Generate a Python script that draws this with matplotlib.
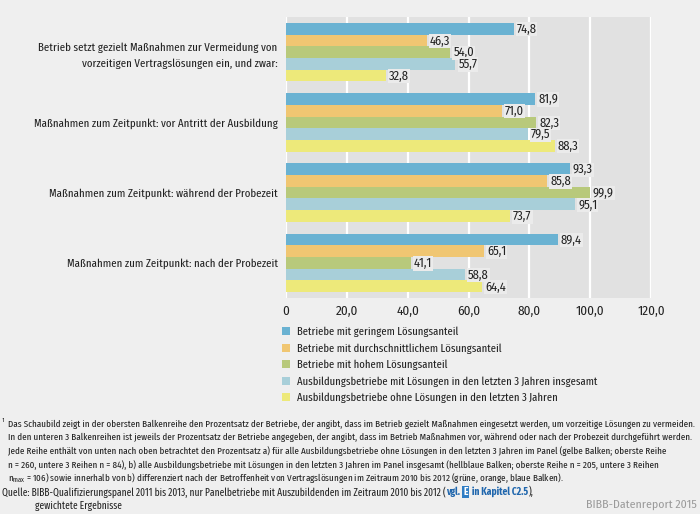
import matplotlib
matplotlib.use("Agg")
import matplotlib.pyplot as plt
import numpy as np

plt.rcParams['font.family'] = ['Fira Sans Condensed', 'DejaVu Sans']
plt.rcParams['mathtext.fontset'] = 'custom'
plt.rcParams['mathtext.rm'] = 'Fira Sans Extra Condensed'
XC = ['Fira Sans Extra Condensed', 'DejaVu Sans']

categories = [
    "Betrieb setzt gezielt Maßnahmen zur Vermeidung von\nvorzeitigen Vertragslösungen ein, und zwar:",
    "Maßnahmen zum Zeitpunkt: vor Antritt der Ausbildung",
    "Maßnahmen zum Zeitpunkt: während der Probezeit",
    "Maßnahmen zum Zeitpunkt: nach der Probezeit",
]
series_names = [
    "Betriebe mit geringem Lösungsanteil",
    "Betriebe mit durchschnittlichem Lösungsanteil",
    "Betriebe mit hohem Lösungsanteil",
    "Ausbildungsbetriebe mit Lösungen in den letzten 3 Jahren insgesamt",
    "Ausbildungsbetriebe ohne Lösungen in den letzten 3 Jahren",
]
geringem = [74.8, 81.9, 93.3, 89.4]
durchschnitt = [46.3, 71.0, 85.8, 65.1]
hohem = [54.0, 82.3, 99.9, 41.1]
mit_loesungen = [55.7, 79.5, 95.1, 58.8]
ohne_loesungen = [32.8, 88.3, 73.7, 64.4]
series = [geringem, durchschnitt, hohem, mit_loesungen, ohne_loesungen]
colors = ['#6ab2d2', '#f0c672', '#b8c97b', '#a8cfd9', '#ede97a']
xticks = [0, 20, 40, 60, 80, 100, 120]

fig = plt.figure(figsize=(7, 5.14), dpi=100, facecolor='#efefef')
ax = fig.add_axes([286 / 700, 1 - 298 / 514, 365 / 700, 281 / 514])
ax.set_facecolor('#e1e1e1')

group_y = np.arange(len(categories)) * 6
handles = []
for i, (vals, col, name) in enumerate(zip(series, colors, series_names)):
    y = group_y + i + 1
    h = ax.barh(y, vals, height=1.0, color=col, label=name, zorder=2)
    handles.append(h)
    for yy, v in zip(y, vals):
        ax.text(v + 1.0, yy + 0.05, f"{v:.1f}".replace('.', ','), va='center', ha='left',
                fontsize=9, color='#222222', zorder=3,
                bbox=dict(facecolor='#ebebeb', edgecolor='none', pad=0.6))

ax.set_xlim(0, 120)
ax.set_ylim(24, 0)
ax.set_xticks(xticks)
ax.set_xticklabels(["0"] + [f"{t:.1f}".replace('.', ',') for t in xticks[1:]], fontsize=9.5)
ax.set_yticks(group_y + 3)
ax.set_yticklabels(categories, fontsize=8.5, multialignment='right', linespacing=1.6, family=XC)
ax.tick_params(length=0, pad=6, colors='#222222')
ax.tick_params(axis='x', pad=5)
ax.grid(axis='x', color='white', linewidth=1.6, zorder=1)
ax.set_axisbelow(True)
for s in ax.spines.values():
    s.set_visible(False)

fig.legend(handles=handles, loc='upper left', bbox_to_anchor=(282 / 700, 1 - 327 / 514),
           frameon=False, prop={'family': XC, 'size': 8.3}, handlelength=0.7, handleheight=0.7,
           handletextpad=0.6, labelspacing=0.5, borderpad=0, borderaxespad=0,
           labelcolor='#222222')

foot = [
    "Das Schaubild zeigt in der obersten Balkenreihe den Prozentsatz der Betriebe, der angibt, dass im Betrieb gezielt Maßnahmen eingesetzt werden, um vorzeitige Lösungen zu vermeiden.",
    "In den unteren 3 Balkenreihen ist jeweils der Prozentsatz der Betriebe angegeben, der angibt, dass im Betrieb Maßnahmen vor, während oder nach der Probezeit durchgeführt werden.",
    "Jede Reihe enthält von unten nach oben betrachtet den Prozentsatz a) für alle Ausbildungsbetriebe ohne Lösungen in den letzten 3 Jahren im Panel (gelbe Balken; oberste Reihe",
    "n = 260, untere 3 Reihen n = 84), b) alle Ausbildungsbetriebe mit Lösungen in den letzten 3 Jahren im Panel insgesamt (hellblaue Balken; oberste Reihe n = 205, untere 3 Reihen",
    r"n$_{\mathrm{max}}$ = 106) sowie innerhalb von b) differenziert nach der Betroffenheit von Vertragslösungen im Zeitraum 2010 bis 2012 (grüne, orange, blaue Balken).",
]
fy = [424, 437, 451, 465, 478]
fig.text(2 / 700, 1 - 422 / 514, "¹", fontsize=6, va='center', color='#222222', family=XC)
for t, y in zip(foot, fy):
    fig.text(8 / 700, 1 - y / 514, t, fontsize=7.1, va='center', color='#222222', family=XC)

# Quelle line built from pieces
fig.canvas.draw()
renderer = fig.canvas.get_renderer()
qy = 1 - 492 / 514
pieces = [
    ("Quelle: BIBB-Qualifizierungspanel 2011 bis 2013, nur Panelbetriebe mit Auszubildenden im Zeitraum 2010 bis 2012 (", '#222222', 'normal', None),
    ("vgl. ", '#1f66ad', 'bold', None),
    ("E", 'white', 'bold', '#2f7dc4'),
    (" in Kapitel C2.5", '#1f66ad', 'bold', None),
    ("),", '#222222', 'normal', None),
]
x = 2
for txt, col, wt, bg in pieces:
    kw = {}
    if bg:
        kw['bbox'] = dict(facecolor=bg, edgecolor='none', pad=0.8)
        x += 2
    t = fig.text(x / 700, qy, txt, fontsize=7.4, color=col, weight=wt, va='center', family=XC, **kw)
    bb = t.get_window_extent(renderer)
    x = bb.x1 + (2 if bg else 0)
fig.text(35 / 700, 1 - 506 / 514, "gewichtete Ergebnisse", fontsize=7.4, va='center', color='#222222', family=XC)
fig.text(697 / 700, 1 - 505 / 514, "BIBB-Datenreport 2015", fontsize=8.5, va='center', ha='right', color='#9a9a9a')

fig.savefig("out.png", dpi=100, facecolor=fig.get_facecolor())
